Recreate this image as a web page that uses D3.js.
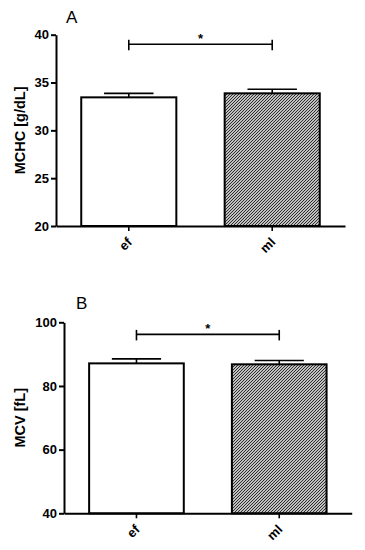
<!DOCTYPE html>
<html>
<head>
<meta charset="utf-8">
<script src="https://cdn.jsdelivr.net/npm/d3@7"></script>
<style>
  body { margin: 0; background: #fff; }
  svg { display: block; font-family: Arial, "Liberation Sans", sans-serif; }
</style>
</head>
<body>
<div id="chart"></div>
<script>
// data
const groups = ['ef', 'ml'];

const mchcMeans = [33.45, 33.87];
const mchcErrors = [0.42, 0.43];
const mchcTicks = [20, 25, 30, 35, 40];
const mchcBracket = 39.0;

const mcvMeans = [87.1, 86.8];
const mcvErrors = [1.4, 1.2];
const mcvTicks = [40, 60, 80, 100];
const mcvBracket = 96.2;

const panels = [
  {
    letter: 'A', label: 'MCHC [g/dL]', means: mchcMeans, errors: mchcErrors,
    ticks: mchcTicks, bracket: mchcBracket,
    left: 56, right: 345, top: 34.7, bottom: 226, letterX: 66, letterY: 23
  },
  {
    letter: 'B', label: 'MCV [fL]', means: mcvMeans, errors: mcvErrors,
    ticks: mcvTicks, bracket: mcvBracket,
    left: 64, right: 351.7, top: 322.3, bottom: 513.3, letterX: 76, letterY: 309
  }
];

const svg = d3.select('#chart').append('svg')
    .attr('width', 365)
    .attr('height', 550);

// hatch fill for the second bar
const hs = 3;
const defs = svg.append('defs');
defs.append('pattern')
    .attr('id', 'hatch')
    .attr('patternUnits', 'userSpaceOnUse')
    .attr('width', hs)
    .attr('height', hs)
  .call((p) => {
    p.append('rect').attr('width', hs).attr('height', hs).attr('fill', '#fff');
    p.append('path')
        .attr('d', `M0,${hs}L${hs},0M${-hs / 2},${hs / 2}L${hs / 2},${-hs / 2}M${hs / 2},${hs * 1.5}L${hs * 1.5},${hs / 2}`)
        .attr('stroke', '#222').attr('stroke-width', 1.1);
  });

const drawPanel = (p) => {
  const g = svg.append('g');
  const domain = d3.extent(p.ticks);

  const x = d3.scaleBand()
      .domain(groups)
      .range([p.left, p.right])
      .paddingInner(0.337)
      .paddingOuter(0.176);

  const y = d3.scaleLinear()
      .domain(domain)
      .range([p.bottom, p.top]);

  // bars
  g.append('g')
      .selectAll('rect')
      .data(groups)
      .join('rect')
      .attr('x', (d) => x(d))
      .attr('y', (d, i) => y(p.means[i]))
      .attr('width', x.bandwidth())
      .attr('height', (d, i) => y(domain[0]) - y(p.means[i]))
      .attr('fill', (d, i) => i === 0 ? '#fff' : 'url(#hatch)')
      .attr('stroke', '#000')
      .attr('stroke-width', 2);

  // error bars (upper only)
  const cap = x.bandwidth() * 0.26;
  const err = g.append('g')
      .attr('stroke', '#000')
      .attr('stroke-width', 1.6)
      .selectAll('g')
      .data(groups)
      .join('g')
      .attr('transform', (d) => `translate(${x(d) + x.bandwidth() / 2},0)`);
  err.append('line')
      .attr('y1', (d, i) => y(p.means[i]))
      .attr('y2', (d, i) => y(p.means[i] + p.errors[i]));
  err.append('line')
      .attr('x1', -cap).attr('x2', cap)
      .attr('y1', (d, i) => y(p.means[i] + p.errors[i]))
      .attr('y2', (d, i) => y(p.means[i] + p.errors[i]));

  // y axis
  const yAxis = g.append('g')
      .attr('transform', `translate(${p.left},0)`)
      .call(d3.axisLeft(y).tickValues(p.ticks).tickSize(5).tickSizeOuter(0).tickPadding(2));
  yAxis.select('.domain').attr('stroke-width', 2);
  yAxis.selectAll('.tick line').attr('stroke-width', 2);
  yAxis.selectAll('.tick text')
      .attr('font-size', 13).attr('font-weight', 'bold').attr('fill', '#000');

  // x axis
  const xAxis = g.append('g')
      .attr('transform', `translate(0,${p.bottom})`)
      .call(d3.axisBottom(x).tickSize(5).tickSizeOuter(0));
  xAxis.select('.domain').attr('stroke-width', 2);
  xAxis.selectAll('.tick line').attr('stroke-width', 1.6);
  xAxis.selectAll('.tick text')
      .attr('font-size', 13).attr('font-weight', 'bold').attr('fill', '#000')
      .attr('text-anchor', 'end')
      .attr('dy', null).attr('y', null)
      .attr('transform', 'translate(4,17) rotate(-45)');

  // y label
  g.append('text')
      .attr('transform', `translate(25,${(p.top + p.bottom) / 2}) rotate(-90)`)
      .attr('text-anchor', 'middle')
      .attr('font-size', 14.5)
      .attr('font-weight', 'bold')
      .attr('fill', '#000')
      .text(p.label);

  // panel letter
  g.append('text')
      .attr('x', p.letterX)
      .attr('y', p.letterY)
      .attr('font-size', 17)
      .attr('fill', '#000')
      .text(p.letter);

  // significance bracket
  const bx0 = x(groups[0]) + x.bandwidth() / 2;
  const bx1 = x(groups[1]) + x.bandwidth() / 2;
  const by = y(p.bracket);
  const br = g.append('g').attr('stroke', '#000').attr('stroke-width', 1.6);
  br.append('line').attr('x1', bx0).attr('x2', bx1).attr('y1', by).attr('y2', by);
  br.append('line').attr('x1', bx0).attr('x2', bx0).attr('y1', by - 4.5).attr('y2', by + 6);
  br.append('line').attr('x1', bx1).attr('x2', bx1).attr('y1', by - 4.5).attr('y2', by + 6);
  g.append('text')
      .attr('x', (bx0 + bx1) / 2)
      .attr('y', by - 1)
      .attr('text-anchor', 'middle')
      .attr('font-size', 13)
      .attr('font-weight', 'bold')
      .text('*');
};

panels.forEach(drawPanel);
</script>
</body>
</html>
